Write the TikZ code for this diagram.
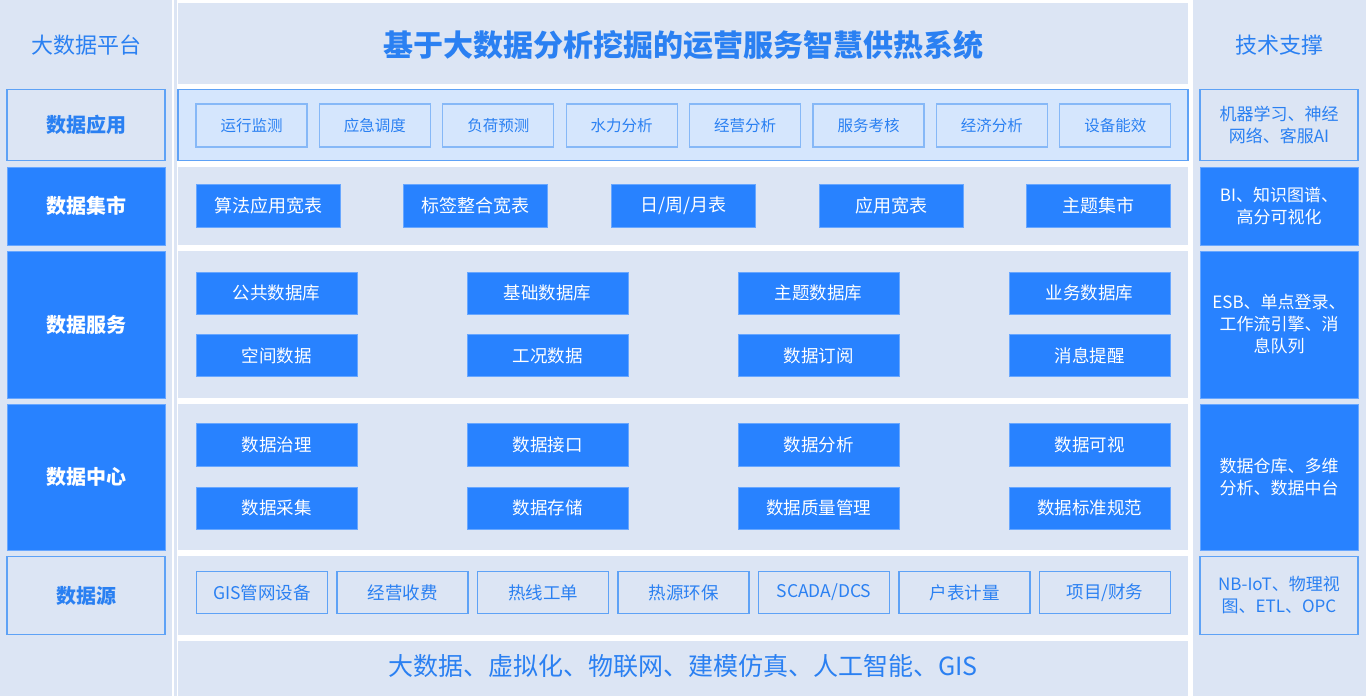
\documentclass[tikz,border=0pt]{standalone}
\usepackage{fontspec}
\setmainfont{Noto Sans CJK SC}
\definecolor{bgblue}{HTML}{DCE5F4}
\definecolor{mainblue}{HTML}{2882FF}
\definecolor{txtblue}{HTML}{2A80F2}
\definecolor{lineblue}{HTML}{5EA2F6}
\definecolor{appfill}{HTML}{D5E6FD}
\definecolor{appline}{HTML}{86B8F7}
\begin{document}
\begin{tikzpicture}
  [x=1pt,y=-1pt,every node/.style={inner sep=0pt,align=center}]
  \tikzstyle{solidbox} = [fill=mainblue,draw=mainblue!70!white,line width=.8pt,text=white]
  \tikzstyle{hollowbox} = [draw=lineblue,line width=1.5pt,text=txtblue]
  \tikzstyle{appbox} = [fill=appfill,draw=appline,line width=1.2pt,text=txtblue,
    minimum width=111pt,minimum height=43pt,font=\fontsize{15.5}{18}\selectfont]
  \tikzstyle{sidebox} = [minimum width=158pt,font=\fontsize{20}{24}\selectfont\bfseries]
  \tikzstyle{techbox} = [minimum width=158pt,font=\fontsize{17}{22}\selectfont]
  \useasboundingbox (0,0) rectangle (1366,696);
  \fill[bgblue] (0,0) rectangle (1366,696);
  % columns and panels
  \fill[white] (172,0) rectangle (173.5,696);
  \fill[white] (176.5,0) rectangle (1193,696);
  \foreach \top/\bot in {3/84,167/245,251/398,404/550,556/635,641/700}
    \fill[bgblue] (178,\top) rectangle (1188,\bot);
  \filldraw[fill=appfill,draw=lineblue,line width=1.5pt] (178,89.5) rectangle (1188,160.5);
  % headings
  \node (plat) at (86,45) [text=txtblue,font=\fontsize{22}{26}\selectfont] {大数据平台};
  \node (title) at (683,45) [text=txtblue,font=\fontsize{30}{34}\selectfont\bfseries] {基于大数据分析挖掘的运营服务智慧供热系统};
  \node (tech) at (1279,45) [text=txtblue,font=\fontsize{22}{26}\selectfont] {技术支撑};
  \node (base) at (683,666) [text=txtblue,font=\fontsize{25}{30}\selectfont] {大数据、虚拟化、物联网、建模仿真、人工智能、GIS};
  % layer names
  \node (lapp) at (86,125) [sidebox,hollowbox,minimum height=71pt] {数据应用};
  \node (lmart) at (86,206) [sidebox,solidbox,minimum height=78pt] {数据集市};
  \node (lsrv) at (86,324.5) [sidebox,solidbox,minimum height=147pt] {数据服务};
  \node (lctr) at (86,477) [sidebox,solidbox,minimum height=146pt] {数据中心};
  \node (lsrc) at (86,595.5) [sidebox,hollowbox,minimum height=78pt] {数据源};
  % technologies
  \node (tapp) at (1279,125) [techbox,hollowbox,minimum height=71pt] {机器学习、神经\\网络、客服AI};
  \node (tmart) at (1279,206) [techbox,solidbox,minimum height=78pt] {BI、知识图谱、\\高分可视化};
  \node (tsrv) at (1279,324.5) [techbox,solidbox,minimum height=147pt] {ESB、单点登录、\\工作流引擎、消\\息队列};
  \node (tctr) at (1279,477) [techbox,solidbox,minimum height=146pt] {数据仓库、多维\\分析、数据中台};
  \node (tsrc) at (1279,595.5) [techbox,hollowbox,minimum height=78pt] {NB-IoT、物理视\\图、ETL、OPC};
  % data applications
  \foreach \i/\name in {0/运行监测,1/应急调度,2/负荷预测,3/水力分析,4/经营分析,5/服务考核,6/经济分析,7/设备能效}
    \node (app\i) at (251.5+123.4*\i,125.5) [appbox] {\name};
  % data marts
  \foreach \i/\name in {0/算法应用宽表,1/标签整合宽表,2/{日/周/月表},3/应用宽表,4/主题集市}
    \node (mart\i) at (268+207.7*\i,206) [solidbox,minimum width=144pt,minimum height=43pt,
      font=\fontsize{18}{20}\selectfont] {\name};
  % data services and data center
  \foreach \i/\upper/\lower in {0/公共数据库/空间数据,1/基础数据库/工况数据,2/主题数据库/数据订阅,3/业务数据库/消息提醒}
  {
    \node (srv\i) at (276.5+271*\i,293) [solidbox,minimum width=161pt,minimum height=42pt,
      font=\fontsize{17.5}{20}\selectfont] {\upper};
    \node (srvb\i) at (276.5+271*\i,355.5) [solidbox,minimum width=161pt,minimum height=42pt,
      font=\fontsize{17.5}{20}\selectfont] {\lower};
  }
  \foreach \i/\upper/\lower in {0/数据治理/数据采集,1/数据接口/数据存储,2/数据分析/数据质量管理,3/数据可视/数据标准规范}
  {
    \node (ctr\i) at (276.5+271*\i,445) [solidbox,minimum width=161pt,minimum height=43pt,
      font=\fontsize{17.5}{20}\selectfont] {\upper};
    \node (ctrb\i) at (276.5+271*\i,508) [solidbox,minimum width=161pt,minimum height=42pt,
      font=\fontsize{17.5}{20}\selectfont] {\lower};
  }
  % data sources
  \foreach \i/\name in {0/GIS管网设备,1/经营收费,2/热线工单,3/热源环保,4/{SCADA/DCS},5/户表计量,6/{项目/财务}}
    \node (src\i) at (262+140.5*\i,592.5) [hollowbox,minimum width=131pt,minimum height=42pt,
      font=\fontsize{17.5}{20}\selectfont] {\name};
\end{tikzpicture}
\end{document}
